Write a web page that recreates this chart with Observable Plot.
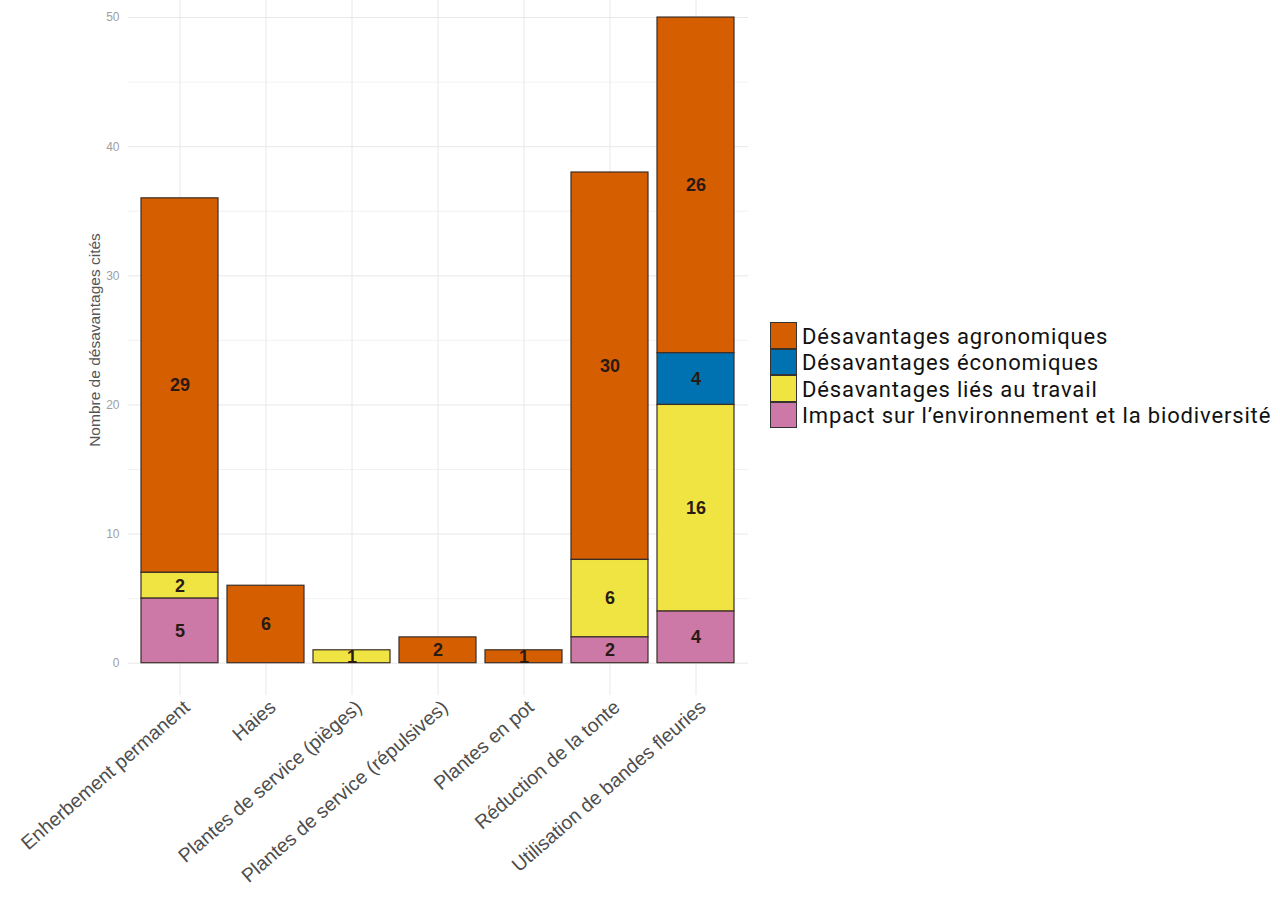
<!DOCTYPE html>
<html>
<head>
<meta charset="utf-8">
<script src="https://cdn.jsdelivr.net/npm/d3@7"></script>
<script src="https://cdn.jsdelivr.net/npm/@observablehq/plot@0.6"></script>
<style>
  html, body { margin: 0; padding: 0; background: #fff; }
  #wrap { position: relative; width: 1280px; height: 910px; overflow: hidden; }
  #legend { position: absolute; left: 770px; top: 322px; font-family: Roboto, sans-serif; font-size: 22px; letter-spacing: 0.85px; color: #111; }
  .item { display: flex; align-items: center; height: 26.5px; line-height: 26px; white-space: nowrap; }
  .item span { display: inline-block; height: 26px; line-height: 26px; position: relative; top: 1.5px; }
  .sw { width: 27px; height: 26.5px; box-sizing: border-box; border: 1.5px solid #333; margin-right: 5px; flex: none; }
</style>
</head>
<body>
<div id="wrap"><div id="legend"></div></div>
<script>
const categories = [
  "Enherbement permanent",
  "Haies",
  "Plantes de service (pièges)",
  "Plantes de service (répulsives)",
  "Plantes en pot",
  "Réduction de la tonte",
  "Utilisation de bandes fleuries"
];
const types = [
  "Désavantages agronomiques",
  "Désavantages économiques",
  "Désavantages liés au travail",
  "Impact sur l’environnement et la biodiversité"
];
const colors = ["#D55E00", "#0072B2", "#F0E442", "#CC79A7"];
// values per type, aligned with categories
const agronomiques = [29, 6, 0, 2, 1, 30, 26];
const economiques  = [0, 0, 0, 0, 0, 0, 4];
const travail      = [2, 0, 1, 0, 0, 6, 16];
const impact       = [5, 0, 0, 0, 0, 2, 4];
const yTicks = [0, 10, 20, 30, 40, 50];
const yMinorTicks = [5, 15, 25, 35, 45];
const yLabel = "Nombre de désavantages cités";

const series = [agronomiques, economiques, travail, impact];
const data = [];
categories.forEach((c, i) => {
  series.forEach((s, j) => {
    if (s[i] > 0) data.push({cat: c, type: types[j], value: s[i]});
  });
});
const stackOrder = [types[3], types[2], types[1], types[0]];

const plot = Plot.plot({
  width: 1280,
  height: 910,
  marginLeft: 128,
  marginRight: 532,
  marginTop: 0,
  marginBottom: 215,
  style: {fontFamily: "Liberation Sans, Arial, sans-serif", background: "#fff"},
  x: {domain: categories, paddingInner: 0.1, paddingOuter: 0.15, label: null},
  y: {domain: [-2.5, 51.32], label: null},
  color: {domain: types, range: colors},
  marks: [
    Plot.ruleY(yMinorTicks, {stroke: "#ededed", strokeWidth: 0.7}),
    Plot.ruleY(yTicks, {stroke: "#e8e8e8", strokeWidth: 1}),
    Plot.gridX({stroke: "#e8e8e8", strokeOpacity: 1, strokeWidth: 1}),
    Plot.barY(data, Plot.stackY({
      x: "cat", y: "value", fill: "type", z: "type",
      order: stackOrder, stroke: "#3a2e28", strokeWidth: 1.2
    })),
    Plot.text(data, Plot.stackY({
      x: "cat", y: "value", z: "type", text: "value",
      order: stackOrder, fill: "#2a1a14", fontWeight: "bold", fontSize: 18
    })),
    Plot.axisY({ticks: yTicks, tickSize: 0, tickPadding: 9, fill: "#a0a0a0", fontSize: 12, label: null}),
    Plot.axisX({tickRotate: -41, tickSize: 0, tickPadding: 9, dx: 7, fill: "#4d4d4d", fontSize: 19.5, label: null}),
    Plot.text([yLabel], {frameAnchor: "left", textAnchor: "middle", rotate: -90, dx: -33, dy: -8, fill: "#555", fontSize: 15.5})
  ]
});
document.getElementById("wrap").prepend(plot);

const legend = document.getElementById("legend");
types.forEach((t, i) => {
  const it = document.createElement("div");
  it.className = "item";
  const sw = document.createElement("div");
  sw.className = "sw";
  sw.style.background = colors[i];
  const lb = document.createElement("span");
  lb.textContent = t;
  it.appendChild(sw); it.appendChild(lb);
  legend.appendChild(it);
});
</script>
</body>
</html>
